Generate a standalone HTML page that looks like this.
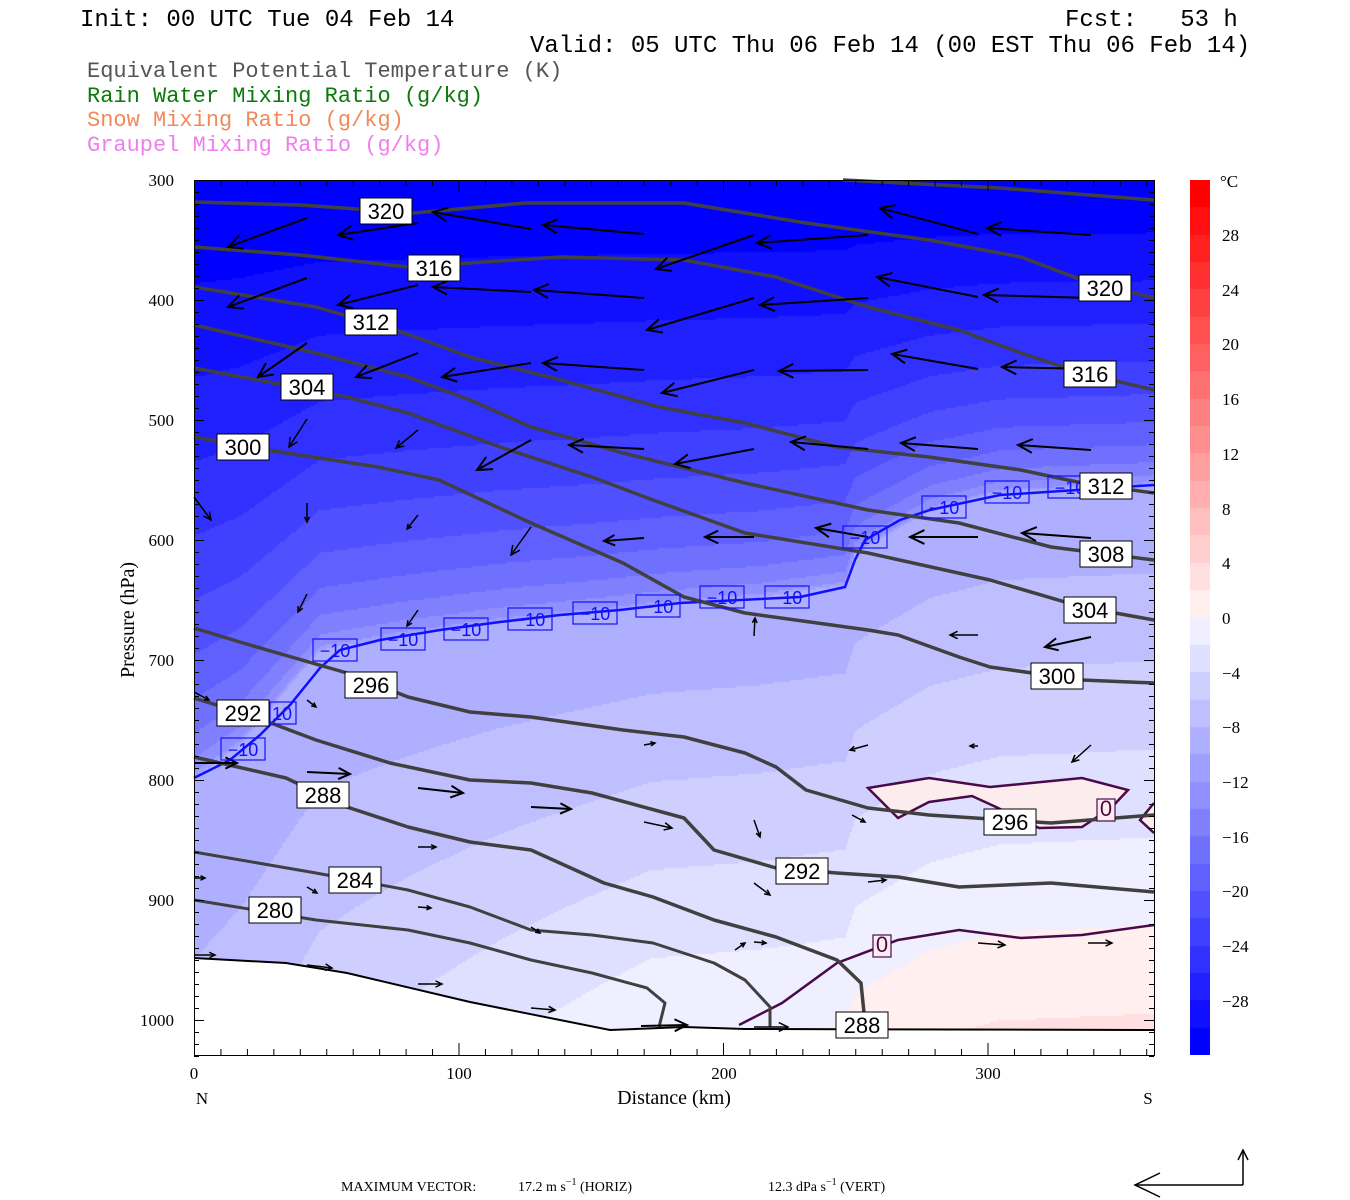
<!DOCTYPE html>
<html><head><meta charset="utf-8">
<style>
html,body{margin:0;padding:0;background:#fff;}
#wrap{position:relative;width:1350px;height:1200px;overflow:hidden;background:#fff;}
canvas{position:absolute;}
svg{position:absolute;left:0;top:0;}
svg text{white-space:pre;}
.t{font-family:"Liberation Mono",monospace;font-size:24px;}
.lg{font-family:"Liberation Mono",monospace;font-size:22px;}
.ax{font-family:"Liberation Serif",serif;font-size:17px;}
.lb{font-family:"Liberation Sans",sans-serif;font-size:22px;}
.bl{font-family:"Liberation Sans",sans-serif;font-size:18px;fill:#1010ff;}
</style></head><body>
<div id="wrap">
<canvas id="fld" width="960" height="875" style="left:194px;top:180px"></canvas>
<canvas id="cb" width="20" height="875" style="left:1190px;top:180px"></canvas>
<svg id="s" width="1350" height="1200" viewBox="0 0 1350 1200" xml:space="preserve">
<g class="t" fill="#000">
<text x="80" y="26">Init: 00 UTC Tue 04 Feb 14</text>
<text x="1065" y="26">Fcst:   53 h</text>
<text x="530" y="52">Valid: 05 UTC Thu 06 Feb 14 (00 EST Thu 06 Feb 14)</text>
</g>
<g class="lg">
<text x="87" y="77" fill="#555">Equivalent Potential Temperature (K)</text>
<text x="87" y="102" fill="#0a7a0a">Rain Water Mixing Ratio (g/kg)</text>
<text x="87" y="126" fill="#f08a5a">Snow Mixing Ratio (g/kg)</text>
<text x="87" y="151" fill="#f07ef0">Graupel Mixing Ratio (g/kg)</text>
</g>
<polygon points="868,788 929,778 990,787 1082,778 1128,790 1112,807 1082,827 1039,828 996,807 972,796 929,802 898,818" fill="#fcecee" stroke="#4a0a4a" stroke-width="2.5"/>
<polyline points="1154,803 1140,820 1154,833" fill="#fcecee" stroke="#4a0a4a" stroke-width="2.5"/>
<polyline points="739,1025 782,1003 837,963 898,940 959,930 1021,938 1082,935 1154,925" fill="none" stroke="#4a0a4a" stroke-width="2.5"/>
<polygon points="194,958 286,963 347,973 470,1002 610,1030 684,1027 745,1029 1154,1030 1154,1055 194,1055" fill="#fff"/>
<polyline points="194,958 286,963 347,973 470,1002 610,1030 684,1027 745,1029 1154,1030" fill="none" stroke="#000" stroke-width="2"/>
<polyline points="194,778 230,760 260,735 290,705 320,668 340,650 380,640 440,630 500,622 560,615 620,610 680,603 740,600 800,597 845,587 855,560 865,540 900,520 930,510 1000,495 1154,485" fill="none" stroke="#1010ff" stroke-width="2.5"/>
<g id="theta" fill="none" stroke="#404040" stroke-width="3.5" stroke-linejoin="round">
<polyline points="843,180 1000,188 1154,200"/>
<polyline points="194,202 300,205 414,213 525,203 684,203 806,223 929,240 1021,257 1082,280 1154,298"/>
<polyline points="194,247 300,255 408,267 561,257 684,260 776,277 868,307 959,330 1021,353 1082,373 1154,390"/>
<polyline points="194,287 316,307 396,330 470,357 561,380 659,407 745,423 837,447 929,457 1021,470 1082,483 1154,493"/>
<polyline points="194,325 316,353 408,377 470,400 531,427 623,453 745,483 868,510 959,523 1051,547 1154,560"/>
<polyline points="194,368 347,397 408,413 500,447 592,477 653,500 745,533 868,553 990,580 1082,607 1154,620"/>
<polyline points="194,437 267,450 378,467 439,480 531,523 623,563 684,597 745,613 810,622 868,630 898,635 959,657 990,667 1082,680 1154,683"/>
<polyline points="194,628 243,643 347,673 408,697 470,712 531,717 623,730 684,737 745,753 776,767 806,790 868,808 929,815 1051,823 1154,815"/>
<polyline points="194,698 255,717 316,740 390,763 470,780 531,783 592,793 684,818 714,850 776,868 837,873 898,877 959,887 1051,883 1154,892"/>
<polyline points="194,757 286,778 347,807 408,827 470,842 531,850 604,883 653,897 714,920 776,937 837,960 861,983 864,1013"/>
<polyline points="194,852 316,873 408,890 470,907 531,930 592,935 653,943 714,963 745,980 770,1007 770,1027" stroke-width="3"/>
<polyline points="194,900 316,920 408,930 470,943 531,960 592,973 647,988 665,1003 659,1027" stroke-width="3"/>
</g>
<g id="arrows" stroke="#000" fill="none" stroke-width="2"></g>
<g id="labs"></g>
<rect x="194.5" y="180.5" width="960" height="875" fill="none" stroke="#000" stroke-width="1"/>
<g id="ticks" stroke="#000" stroke-width="1"></g>
<g class="ax" fill="#000" text-anchor="end">
<text x="174" y="186">300</text><text x="174" y="306">400</text><text x="174" y="426">500</text>
<text x="174" y="546">600</text><text x="174" y="666">700</text><text x="174" y="786">800</text>
<text x="174" y="906">900</text><text x="174" y="1026">1000</text>
</g>
<g class="ax" fill="#000" text-anchor="middle">
<text x="194" y="1079">0</text><text x="459" y="1079">100</text><text x="724" y="1079">200</text><text x="988" y="1079">300</text>
<text x="202" y="1104">N</text><text x="1148" y="1104">S</text>
<text x="674" y="1104" font-size="20">Distance (km)</text>
<text x="0" y="0" font-size="20" transform="translate(134,620) rotate(-90)">Pressure (hPa)</text>
</g>
<g class="ax" fill="#000" font-size="18">
<text x="1220" y="187">°C</text>
<text x="1222" y="241">28</text><text x="1222" y="296">24</text><text x="1222" y="350">20</text>
<text x="1222" y="405">16</text><text x="1222" y="460">12</text><text x="1222" y="515">8</text>
<text x="1222" y="569">4</text><text x="1222" y="624">0</text><text x="1222" y="679">−4</text>
<text x="1222" y="733">−8</text><text x="1222" y="788">−12</text><text x="1222" y="843">−16</text>
<text x="1222" y="897">−20</text><text x="1222" y="952">−24</text><text x="1222" y="1007">−28</text>
</g>
<g font-family="Liberation Serif,serif" font-size="14" fill="#000">
<text x="341" y="1191">MAXIMUM VECTOR:</text>
<text x="518" y="1191">17.2 m s<tspan dy="-6" font-size="10">−1</tspan><tspan dy="6"> (HORIZ)</tspan></text>
<text x="768" y="1191">12.3 dPa s<tspan dy="-6" font-size="10">−1</tspan><tspan dy="6"> (VERT)</tspan></text>
</g>
<g stroke="#000" stroke-width="1.5" fill="none">
<polyline points="1243,1185 1135,1185"/><polyline points="1160,1173 1135,1185 1160,1197"/>
<polyline points="1243,1185 1243,1150"/><polyline points="1238,1160 1243,1150 1248,1160"/>
</g>
</svg>
</div>
<script>
(function(){
var P=[[194,778],[240,745],[320,650],[400,636],[500,622],[600,612],[660,605],[760,597],[845,585],[855,555],[870,545],[930,510],[1000,492],[1154,485]];
function y10(x){for(var i=0;i<P.length-1;i++){if(x<=P[i+1][0]){var f=(x-P[i][0])/(P[i+1][0]-P[i][0]);return P[i][1]+f*(P[i+1][1]-P[i][1]);}}return P[P.length-1][1];}
function T(x,y){var b=y10(x),d=y-b;if(d>=0){var k=0.011+0.0117*Math.min(1,Math.max(0,(x-194)/456));return -10+d*k;}var r=Math.min(1,-d/(b-180));return -10-22*Math.pow(r,0.5);}
function col(t){var c=Math.floor(t/2)*2+1;c=Math.max(-31,Math.min(31,c));
if(c<0){var v=Math.round(255*(c+31)/32);return 'rgb('+v+','+v+',255)';}
var w=Math.round(255*(1-(c+1)/32));return 'rgb(255,'+w+','+w+')';}
var cx=document.getElementById('fld').getContext('2d');
for(var y=0;y<875;y+=2){for(var x=0;x<960;x+=2){cx.fillStyle=col(T(x+195,y+181));cx.fillRect(x,y,2,2);}}
var cb=document.getElementById('cb').getContext('2d');var h=875/32;
for(var i=0;i<32;i++){var c=31-2*i;cb.fillStyle=col(c-1);cb.fillRect(0,Math.round(i*h),20,Math.ceil(h)+1);}
var NS='http://www.w3.org/2000/svg';
function el(n,a,p){var e=document.createElementNS(NS,n);for(var k in a)e.setAttribute(k,a[k]);p.appendChild(e);return e;}
var A=[[307,218,228,247],[418,223,338,235],[531,229,433,212],[644,234,543,225],[754,235,656,269],[868,235,757,243],[978,234,880,208],[1091,235,987,228],
[307,278,228,307],[418,285,338,305],[531,292,433,287],[644,298,534,290],[754,298,647,330],[868,298,760,305],[978,297,877,277],[1091,298,984,295],
[307,343,258,377],[418,353,356,377],[531,363,442,377],[644,370,543,363],[754,370,662,393],[868,370,779,371],[978,369,892,354],[1091,369,1002,367],
[307,419,289,447],[418,430,396,448],[531,440,477,470],[644,449,569,445],[754,449,675,464],[868,449,791,442],[978,449,901,443],[1091,450,1018,445],
[194,497,211,520],[307,503,307,522],[418,515,407,529],[531,527,511,555],[644,538,604,541],[754,537,705,537],[868,537,816,528],[978,537,910,537],[1091,538,1022,533],
[307,594,298,612],[418,610,407,626],[754,636,755,618],[978,635,950,635],[1091,637,1045,647],
[194,692,209,700],[307,700,316,707],[644,745,655,743],[868,745,850,750],[978,746,970,746],[1091,745,1072,762],
[194,763,237,763],[307,772,350,774],[418,788,463,793],[531,807,571,809],[644,822,672,828],[754,820,760,837],[852,815,865,822],
[418,847,436,847],[754,883,770,895],[868,882,886,880],
[194,878,205,878],[307,887,317,893],[418,907,431,908],[531,927,540,933],[735,950,745,943],[754,942,766,943],[978,943,1005,945],[1088,943,1112,943],
[194,955,215,955],[307,965,332,968],[418,984,442,984],[531,1008,555,1010],[641,1026,687,1025],[754,1027,788,1027]];
var g=document.getElementById('arrows');
A.forEach(function(a){var dx=a[2]-a[0],dy=a[3]-a[1],L=Math.sqrt(dx*dx+dy*dy);var hl=Math.min(16,Math.max(5,L*0.3));var ang=Math.atan2(dy,dx);
var sw=L>40?2:1.5;
el('line',{x1:a[0],y1:a[1],x2:a[2],y2:a[3],'stroke-width':sw},g);
var p1=[a[2]-hl*Math.cos(ang-0.45),a[3]-hl*Math.sin(ang-0.45)],p2=[a[2]-hl*Math.cos(ang+0.45),a[3]-hl*Math.sin(ang+0.45)];
el('polyline',{points:p1.join(',')+' '+a[2]+','+a[3]+' '+p2.join(','),'stroke-width':sw},g);});
var lb=document.getElementById('labs');
var TL=[['320',386,211],['316',434,268],['312',371,322],['304',307,387],['300',243,447],['296',371,685],['292',243,713],['288',323,795],['284',355,880],['280',275,910],
['320',1105,288],['316',1090,374],['312',1106,486],['308',1106,554],['304',1090,610],['300',1057,676],['296',1010,822],['292',802,871],['288',862,1025]];
var BL=[[335,650],[403,639],[466,629],[530,619],[595,613],[658,606],[722,597],[787,597],[865,537],[944,507],[1007,492],[1070,487],[243,749]];
BL.forEach(function(b){el('rect',{x:b[0]-22,y:b[1]-11,width:44,height:22,fill:'none',stroke:'#1010ff','stroke-width':1.2},lb);
var t=el('text',{x:b[0],y:b[1]+7,'text-anchor':'middle','class':'bl'},lb);t.textContent='\u221210';});
var t2=el('text',{x:282,y:720,'text-anchor':'middle','class':'bl'},lb);t2.textContent='10';
el('rect',{x:270,y:702,width:26,height:22,fill:'none',stroke:'#1010ff','stroke-width':1.2},lb);
TL.forEach(function(l){el('rect',{x:l[1]-26,y:l[2]-13,width:52,height:26,fill:'#fff',stroke:'#000','stroke-width':1},lb);
var t=el('text',{x:l[1],y:l[2]+8,'text-anchor':'middle','class':'lb'},lb);t.textContent=l[0];});
[[1106,810],[882,946]].forEach(function(p){el('rect',{x:p[0]-9,y:p[1]-11,width:18,height:22,fill:'#fcecee',stroke:'#4a0a4a','stroke-width':1.2},lb);
var t=el('text',{x:p[0],y:p[1]+6,'text-anchor':'middle','class':'lb','font-size':'16',fill:'#4a0a4a'},lb);t.textContent='0';});
var tk=document.getElementById('ticks');
for(var p=300;p<=1030;p+=10){var y=180+(p-300)*1.2+0.5;var L=(p%100==0)?10:5;
el('line',{x1:194,y1:y,x2:194+L,y2:y},tk);el('line',{x1:1154,y1:y,x2:1154-L,y2:y},tk);}
for(var d=0;d<=363;d+=10){var x=194+d*2.645+0.5;var L=(d%100==0)?12:6;
el('line',{x1:x,y1:1055,x2:x,y2:1055-L},tk);el('line',{x1:x,y1:180,x2:x,y2:180+L},tk);}
})();
</script>
</body></html>
